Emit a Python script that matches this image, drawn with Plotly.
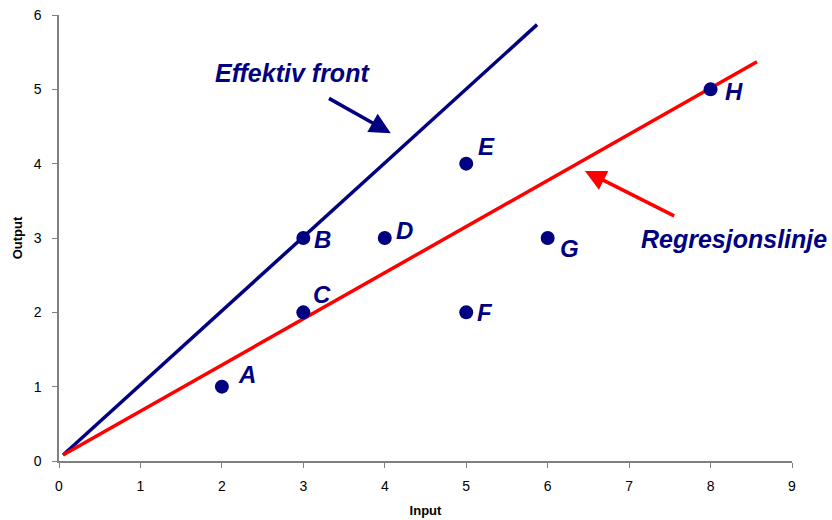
import plotly.graph_objects as go

# Data points
labels = ["A", "B", "C", "D", "E", "F", "G", "H"]
inputs = [2, 3, 3, 4, 5, 5, 6, 8]
outputs = [1, 3, 2, 3, 4, 2, 3, 5]

# Efficient frontier line (endpoints)
front_x = [0.05, 5.87]
front_y = [0.08, 5.87]

# Regression line (endpoints)
reg_x = [0.05, 8.57]
reg_y = [0.08, 5.37]

NAVY = "#000080"
RED = "#FF0000"
FONT = "Liberation Sans, Arial, sans-serif"

fig = go.Figure()
fig.add_trace(go.Scatter(x=front_x, y=front_y, mode="lines",
                         line=dict(color=NAVY, width=3.5), showlegend=False, hoverinfo="skip"))
fig.add_trace(go.Scatter(x=reg_x, y=reg_y, mode="lines",
                         line=dict(color=RED, width=3.5), showlegend=False, hoverinfo="skip"))
fig.add_trace(go.Scatter(x=inputs, y=outputs, mode="markers",
                         marker=dict(color=NAVY, size=14), showlegend=False))

# point label pixel offsets (dx, dy) with dy upward positive
offsets = {"A": (25, 12), "B": (19, -1), "C": (19, 18), "D": (20, 8),
           "E": (20, 17), "F": (19, 0), "G": (22, -10), "H": (23, -2)}
for lab, x, y in zip(labels, inputs, outputs):
    dx, dy = offsets[lab]
    fig.add_annotation(x=x, y=y, text=f"<b><i>{lab}</i></b>", showarrow=False,
                       xshift=dx, yshift=dy,
                       font=dict(family=FONT, size=24, color=NAVY))

# Text labels
fig.add_annotation(x=2.87, y=5.22, text="<b><i>Effektiv front</i></b>", showarrow=False,
                   font=dict(family=FONT, size=25, color=NAVY))
fig.add_annotation(x=8.29, y=2.99, text="<b><i>Regresjonslinje</i></b>", showarrow=False,
                   font=dict(family=FONT, size=25, color=NAVY))

# Arrows
fig.add_annotation(x=4.074, y=4.41, ax=3.296, ay=4.89, xref="x", yref="y",
                   axref="x", ayref="y", text="", showarrow=True,
                   arrowhead=2, arrowsize=1.2, arrowwidth=3.5, arrowcolor=NAVY)
fig.add_annotation(x=6.457, y=3.903, ax=7.571, ay=3.288, xref="x", yref="y",
                   axref="x", ayref="y", text="", showarrow=True,
                   arrowhead=2, arrowsize=1.2, arrowwidth=3.5, arrowcolor=RED)

axis_common = dict(showgrid=False, zeroline=False, showline=True, linecolor="#808080",
                   linewidth=1.5, ticks="outside", ticklen=5, tickcolor="#808080",
                   tickfont=dict(family=FONT, size=14, color="black"), dtick=1,
                   automargin=False)

fig.update_layout(
    width=832, height=520,
    margin=dict(l=59, r=40, t=15, b=59),
    plot_bgcolor="white", paper_bgcolor="white",
    xaxis=dict(range=[0, 9], **axis_common, ticklabelstandoff=6,
               title=dict(text="<b>Input</b>", standoff=13,
                          font=dict(family=FONT, size=13, color="black"))),
    yaxis=dict(range=[0, 6], **axis_common, ticklabelstandoff=8,
               title=dict(text="<b>Output</b>", standoff=8,
                          font=dict(family=FONT, size=13, color="black"))),
)

fig.write_html("out.html", config={"displayModeBar": False},
               post_script="document.body.style.margin='0';")
